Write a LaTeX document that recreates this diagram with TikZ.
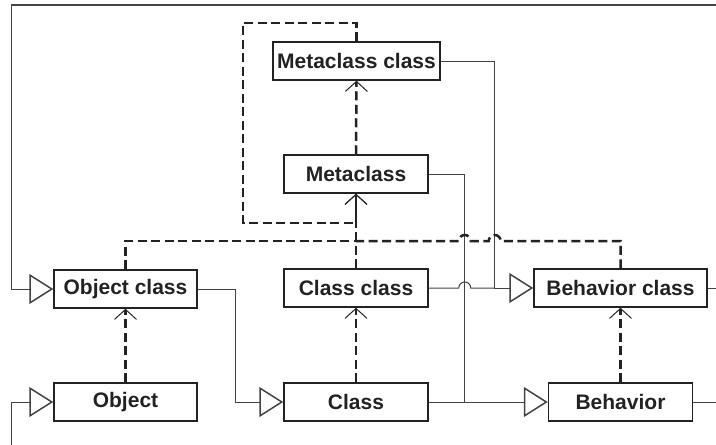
\documentclass[tikz,border=0pt]{standalone}
\usepackage{fontspec}
\setmainfont{Liberation Sans}
\usetikzlibrary{arrows.meta,calc}
\definecolor{ink}{HTML}{222222}
\begin{document}
\begin{tikzpicture}[x=1pt, y=-1pt,
    box/.style={draw=ink, line width=1.5pt, minimum width=144pt, minimum height=38pt,
        inner sep=0pt, text=ink, font=\fontsize{21}{25}\selectfont\bfseries},
    wire/.style={draw=ink!85, line width=1pt},
    isa/.style={-{Triangle[open, length=24pt, width=30pt, line width=1.5pt]}},
    inst/.style={draw=ink, line width=2.5pt, dash pattern=on 9pt off 4.5pt},
    up/.style={-{Straight Barb[length=10pt, width=22pt, line width=1pt]}}]
    \useasboundingbox (0,0) rectangle (716,445);
    \node [box, minimum width=167pt] (mcc) at (356.5,61) {Metaclass class};
    \node [box] (mc) at (356,174) {Metaclass};
    \node [box, minimum width=143pt] (oc) at (125.5,289) {Object class};
    \node [box] (ccl) at (356,288) {Class class};
    \node [box, minimum width=173pt] (bc) at (620.5,288) {Behavior class};
    \node [box, minimum width=143pt] (ob) at (125.5,402) {Object};
    \node [box] (cl) at (356,402) {Class};
    \node [box] (bh) at (620.5,402) {Behavior};
    \coordinate (lt) at (11,5);
    \coordinate (lb) at (11,445);
    \coordinate (join) at (356,241);
    \coordinate (loop) at (243,23);
    \draw [wire, line width=1.8pt] (716,5) -- (lt);
    \draw [wire, isa] (lt) |- (oc.west);
    \draw [wire, isa] (lb) |- (ob.west);
    \draw [wire, isa] (oc.east) -- ++(38,0) |- (cl.west);
    \draw [wire, isa] (mc.east) -- ++(36,0) coordinate (mcbend) |- (bh.west);
    \draw [wire] (cl.east) -- (cl.east -| mcbend);
    \draw [wire, isa] (mcc.east) -- ++(54,0) coordinate (mccbend) |- (bc.west);
    \draw [wire] (ccl.east) -- ($(ccl.east -| mcbend)+(-6,0)$)
        arc[start angle=180, end angle=0, radius=6pt] -- (ccl.east -| mccbend);
    \draw [wire] (bc.east) -- (716,288);
    \draw [wire] (bh.east) -- (716,402);
    \draw [inst, up] (mc.north) -- (mcc.south);
    \draw [inst, up] (mcc.north) |- (loop) |- ($(mc.south)+(0,29)$) -- (mc.south);
    \draw [inst, up] (ccl.north) -- (mc.south);
    \draw [inst] (oc.north) |- (join);
    \draw [inst] (bc.north) |- ($(join -| mccbend)+(6,0)$)
        arc[start angle=0, end angle=180, radius=6pt] -- ($(join -| mcbend)+(6,0)$)
        arc[start angle=0, end angle=180, radius=6pt] -- (join);
    \draw [inst, up] (ob.north) -- (oc.south);
    \draw [inst, up] (cl.north) -- (ccl.south);
    \draw [inst, up] (bh.north) -- (bc.south);
\end{tikzpicture}
\end{document}
